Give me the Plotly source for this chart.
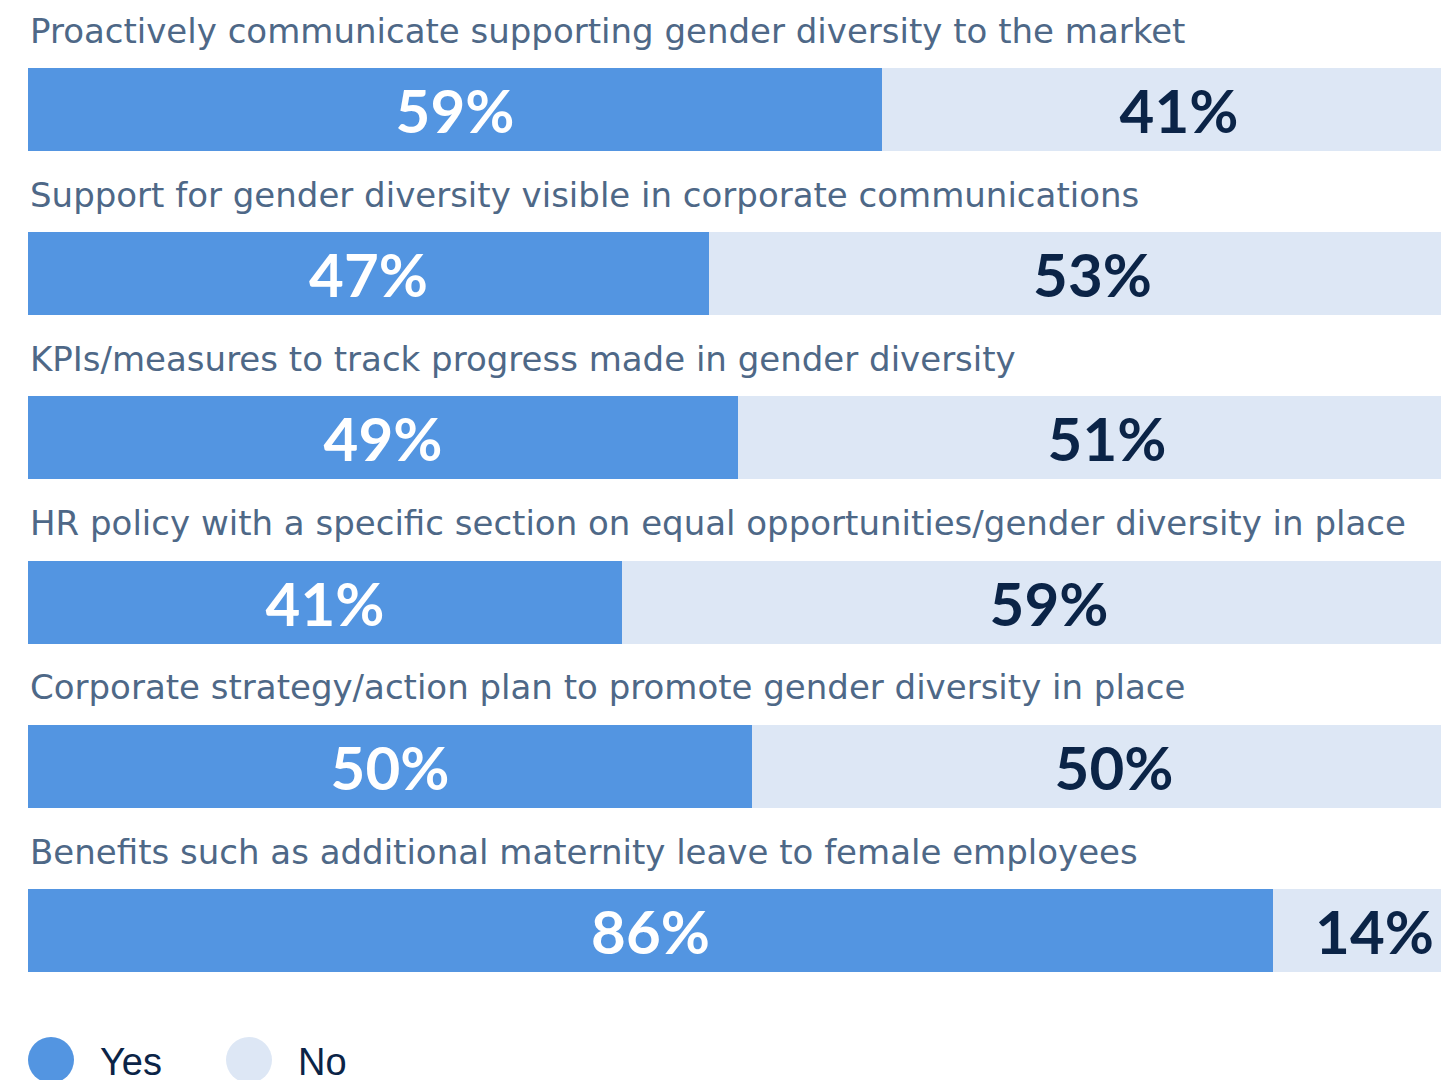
import plotly.graph_objects as go

categories = [
    "Proactively communicate supporting gender diversity to the market",
    "Support for gender diversity visible in corporate communications",
    "KPIs/measures to track progress made in gender diversity",
    "HR policy with a specific section on equal opportunities/gender diversity in place",
    "Corporate strategy/action plan to promote gender diversity in place",
    "Benefits such as additional maternity leave to female employees",
]
yes_vals = [59, 47, 49, 41, 50, 86]
no_vals = [41, 53, 51, 59, 50, 14]
series_names = ["Yes", "No"]

YES_COLOR = "#5395E1"
NO_COLOR = "#DDE7F5"
CAT_COLOR = "#4E6887"
DARK = "#0B2447"

OFF = 8  # page body margin
W, H = 1449 - OFF, 1080 - OFF
pos = list(range(len(categories)))

fig = go.Figure()
fig.add_trace(go.Bar(
    y=pos, x=yes_vals, orientation="h", name=series_names[0],
    marker=dict(color=YES_COLOR, line=dict(width=0)),
    text=[f"{v}%" for v in yes_vals], textposition="inside",
    insidetextanchor="middle", constraintext="none",
    textfont=dict(family="Lato", size=60, color="white", weight="bold"),
    width=0.505, showlegend=False, hoverinfo="skip",
))
fig.add_trace(go.Bar(
    y=pos, x=no_vals, orientation="h", name=series_names[1],
    marker=dict(color=NO_COLOR, line=dict(width=0)),
    text=[f"{v}%" for v in no_vals], textposition="inside",
    insidetextanchor="middle", constraintext="none",
    textfont=dict(family="Lato", size=60, color=DARK, weight="bold"),
    width=0.505, showlegend=False, hoverinfo="skip",
))

annotations = []
for i, c in enumerate(categories):
    annotations.append(dict(
        x=0, y=i, xref="x", yref="y", text=c, showarrow=False,
        xanchor="left", yanchor="middle", yshift=79,
        font=dict(family="DejaVu Sans", size=34, color=CAT_COLOR),
    ))

L = 28 - OFF
PW = W - L
# legend drawn manually (circles), positions in window pixels
shapes = []
legend_x = [28, 226]
for name, col, lx in zip(series_names, [YES_COLOR, NO_COLOR], legend_x):
    shapes.append(dict(type="circle", xref="paper", yref="paper",
                       xsizemode="pixel", ysizemode="pixel",
                       xanchor=(lx - 28) / PW, yanchor=(OFF + H - 1060) / H,
                       x0=0, x1=46, y0=-23, y1=23,
                       fillcolor=col, line=dict(width=0)))
    annotations.append(dict(
        x=(lx + 70 - 28) / PW, y=(OFF + H - 1062) / H, xref="paper", yref="paper",
        text=name, showarrow=False, xanchor="left", yanchor="middle",
        font=dict(family="Liberation Sans", size=38, color=DARK),
    ))

# y axis: category centers at pixel 109.5 + 164.2*i (window coords)
unit = 164.2
top = -(109.5 - OFF) / unit
bottom = top + H / unit

fig.update_layout(
    width=W, height=H, barmode="stack",
    margin=dict(l=L, r=0, t=0, b=0),
    paper_bgcolor="white", plot_bgcolor="white",
    xaxis=dict(range=[0, PW / 14.48], visible=False, fixedrange=True),
    yaxis=dict(range=[bottom, top], visible=False, fixedrange=True),
    annotations=annotations, shapes=shapes,
    bargap=0,
)

fig.write_html("out.html")
